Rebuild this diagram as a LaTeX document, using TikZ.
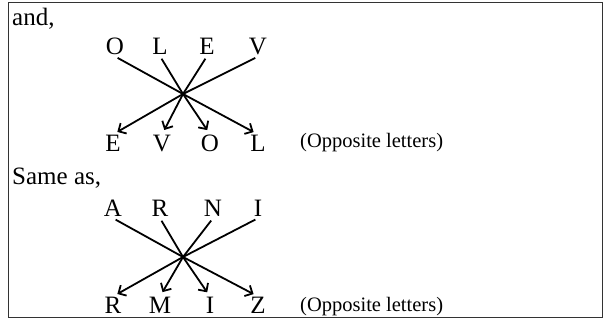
\documentclass[tikz,border=0pt]{standalone}
\usepackage{fontspec}
\setmainfont{Liberation Serif}
\usepackage{tikz}
\usetikzlibrary{positioning, arrows.meta}

\tikzset{
    letter/.style={anchor=base, inner sep=1pt, font=\fontsize{25}{28}\selectfont},
    head/.style={anchor=base west, inner sep=0pt, font=\fontsize{25}{28}\selectfont},
    note/.style={anchor=base west, inner sep=0pt, font=\fontsize{20.5}{24}\selectfont},
    cross/.style={line width=1.8pt, shorten <=3pt, shorten >=5pt, -{Straight Barb[length=6pt, width=12pt]}}
}

\begin{document}
\begin{tikzpicture}[x=1pt, y=1pt]
    \useasboundingbox (0,0) rectangle (604,320);
    \draw[line width=1pt, black!80] (8,2) rectangle (602,317);

    % first word
    \node (and) [head] at (12,294) {and,};
    \node (o1) [letter] at (115,265) {O};
    \node (l1) [letter] at (160,265) {L};
    \node (e1) [letter] at (207,265) {E};
    \node (v1) [letter] at (258,265) {V};
    \node (e2) [letter] at (113,168) {E};
    \node (v2) [letter] at (162,168) {V};
    \node (o2) [letter] at (210,168) {O};
    \node (l2) [letter] at (258,168) {L};
    \node (opp1) [note] at (300,172) {(Opposite letters)};
    \coordinate (x1) at (183,226);

    \draw[cross] (o1.south) -- (x1) -- (l2.north);
    \draw[cross] (l1.south) -- (x1) -- (o2.north);
    \draw[cross] (e1.south) -- (x1) -- (v2.north);
    \draw[cross] (v1.south) -- (x1) -- (e2.north);

    % second word
    \node (same) [head] at (12,135) {Same as,};
    \node (a3) [letter] at (113,103) {A};
    \node (r3) [letter] at (160,103) {R};
    \node (n3) [letter] at (213,103) {N};
    \node (i3) [letter] at (258,103) {I};
    \node (r4) [letter] at (113,6) {R};
    \node (m4) [letter] at (160,6) {M};
    \node (i4) [letter] at (210,6) {I};
    \node (z4) [letter] at (258,6) {Z};
    \node (opp2) [note] at (300,8) {(Opposite letters)};
    \coordinate (x2) at (183,63);

    \draw[cross] (a3.south) -- (x2) -- (z4.north);
    \draw[cross] (r3.south) -- (x2) -- (i4.north);
    \draw[cross] (n3.south) -- (x2) -- (m4.north);
    \draw[cross] (i3.south) -- (x2) -- (r4.north);
\end{tikzpicture}
\end{document}
